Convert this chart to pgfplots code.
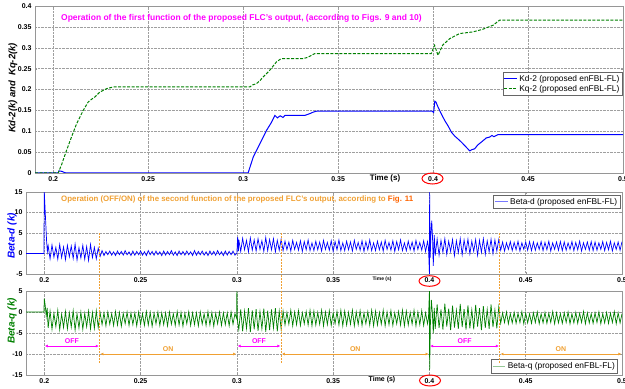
\documentclass[border=0pt]{standalone}
\usepackage{pgfplots}
\pgfplotsset{compat=1.18}
\usepackage{pgfplotstable}
\usepackage{fontspec}
\setmainfont{Liberation Sans}
\usetikzlibrary{arrows.meta}
\definecolor{kgreen}{RGB}{0,128,0}
\definecolor{mag}{RGB}{255,0,255}
\definecolor{orng}{RGB}{240,160,50}
\definecolor{orng2}{RGB}{255,100,0}
\definecolor{framec}{RGB}{150,150,150}
\definecolor{lblue}{RGB}{120,120,255}
\definecolor{lgreen}{RGB}{150,200,150}

\pgfplotstableread[row sep=\\]{
x y\\
0.1905 0\\ 0.1998 0\\ 0.2000 15\\ 0.2004 11\\ 0.2008 7\\ 0.2012 3\\ 0.2016 0.5\\
0.202 1.9\\ 0.203 -1.3\\ 0.204 2.1\\ 0.205 -0.9\\ 0.206 1.5\\ 0.207 -1.4\\ 0.208 2.2\\ 0.209 -1.0\\ 0.210 1.6\\ 0.211 -1.5\\ 0.212 2.0\\ 0.213 -0.8\\ 0.214 1.8\\ 0.215 -1.2\\
0.216 2.3\\ 0.217 -1.6\\ 0.218 1.4\\ 0.219 -1.1\\ 0.220 2.0\\ 0.221 -1.4\\ 0.222 1.7\\ 0.223 -1.7\\ 0.224 2.2\\ 0.225 -1.0\\ 0.226 1.5\\ 0.227 -1.3\\ 0.228 1.3\\ 0.229 -0.7\\
0.230 0.7\\ 0.231 -0.5\\ 0.232 0.5\\ 0.233 -0.3\\ 0.234 0.6\\ 0.235 -0.4\\ 0.236 0.4\\ 0.237 -0.5\\ 0.238 0.6\\ 0.239 -0.3\\ 0.240 0.5\\ 0.241 -0.4\\ 0.242 0.7\\ 0.243 -0.3\\
0.244 0.4\\ 0.245 -0.5\\ 0.246 0.6\\ 0.247 -0.4\\ 0.248 0.5\\ 0.249 -0.3\\ 0.250 0.6\\ 0.251 -0.4\\ 0.252 0.4\\ 0.253 -0.5\\ 0.254 0.7\\ 0.255 -0.3\\ 0.256 0.5\\ 0.257 -0.4\\
0.258 0.6\\ 0.259 -0.3\\ 0.260 0.4\\ 0.261 -0.5\\ 0.262 0.6\\ 0.263 -0.4\\ 0.264 0.5\\ 0.265 -0.3\\ 0.266 0.7\\ 0.267 -0.4\\ 0.268 0.4\\ 0.269 -0.5\\ 0.270 0.6\\ 0.271 -0.3\\
0.272 0.5\\ 0.273 -0.4\\ 0.274 0.6\\ 0.275 -0.3\\ 0.276 0.4\\ 0.277 -0.5\\ 0.278 0.7\\ 0.279 -0.4\\ 0.280 0.5\\ 0.281 -0.3\\ 0.282 0.6\\ 0.283 -0.4\\ 0.284 0.4\\ 0.285 -0.5\\
0.286 0.6\\ 0.287 -0.3\\ 0.288 0.5\\ 0.289 -0.4\\ 0.290 0.7\\ 0.291 -0.3\\ 0.292 0.4\\ 0.293 -0.5\\ 0.294 0.6\\ 0.295 -0.4\\ 0.296 0.5\\ 0.297 -0.3\\ 0.298 0.6\\ 0.299 -0.4\\
0.2999 0\\ 0.3000 0\\ 0.3004 4.0\\ 0.3008 0.6\\
0.301 3.4\\ 0.302 0.5\\ 0.303 3.7\\ 0.304 0.9\\ 0.305 3.2\\ 0.306 0.4\\ 0.307 3.8\\ 0.308 0.8\\ 0.309 3.3\\ 0.310 0.6\\ 0.311 3.6\\ 0.312 1.0\\ 0.313 3.1\\ 0.314 0.5\\
0.315 3.9\\ 0.316 0.7\\ 0.317 3.4\\ 0.318 0.9\\ 0.319 3.6\\ 0.320 0.4\\ 0.321 3.2\\ 0.322 0.8\\ 0.323 3.5\\
0.324 0.7\\ 0.325 3.0\\ 0.326 0.9\\ 0.327 2.8\\ 0.328 0.6\\ 0.329 3.2\\ 0.330 1.0\\ 0.331 2.7\\ 0.332 0.8\\ 0.333 3.1\\ 0.334 0.5\\ 0.335 2.9\\ 0.336 0.9\\ 0.337 3.3\\ 0.338 0.7\\ 0.339 2.6\\
0.340 0.7\\ 0.341 3.0\\ 0.342 0.9\\ 0.343 2.8\\ 0.344 0.6\\ 0.345 3.2\\ 0.346 1.0\\ 0.347 2.7\\ 0.348 0.8\\ 0.349 3.1\\ 0.350 0.5\\ 0.351 2.9\\ 0.352 0.9\\ 0.353 3.3\\ 0.354 0.7\\ 0.355 2.6\\
0.356 0.7\\ 0.357 3.0\\ 0.358 0.9\\ 0.359 2.8\\ 0.360 0.6\\ 0.361 3.2\\ 0.362 1.0\\ 0.363 2.7\\ 0.364 0.8\\ 0.365 3.1\\ 0.366 0.5\\ 0.367 2.9\\ 0.368 0.9\\ 0.369 3.3\\ 0.370 0.7\\ 0.371 2.6\\
0.372 0.7\\ 0.373 3.0\\ 0.374 0.9\\ 0.375 2.8\\ 0.376 0.6\\ 0.377 3.2\\ 0.378 1.0\\ 0.379 2.7\\ 0.380 0.8\\ 0.381 3.1\\ 0.382 0.5\\ 0.383 2.9\\ 0.384 0.9\\ 0.385 3.3\\ 0.386 0.7\\ 0.387 2.6\\
0.388 0.7\\ 0.389 3.0\\ 0.390 0.9\\ 0.391 2.8\\ 0.392 0.6\\ 0.393 3.2\\ 0.394 1.0\\ 0.395 2.7\\ 0.396 0.8\\ 0.397 3.1\\ 0.398 0.5\\ 0.399 2.9\\
0.3995 1.5\\ 0.4000 -5\\ 0.4001 15\\ 0.4004 -1\\ 0.4008 5\\ 0.4012 8\\ 0.4016 4\\ 0.4020 -3\\ 0.4025 4.5\\ 0.4030 -0.5\\
0.404 3.5\\ 0.405 -0.4\\ 0.406 3.2\\ 0.407 0.3\\ 0.408 3.6\\ 0.409 -0.2\\ 0.410 3.0\\ 0.411 0.5\\ 0.412 3.4\\ 0.413 -0.5\\ 0.414 3.1\\ 0.415 0.2\\ 0.416 3.6\\ 0.417 -0.3\\
0.418 3.3\\ 0.419 0.4\\ 0.420 3.5\\ 0.421 -0.1\\ 0.422 3.0\\ 0.423 0.5\\ 0.424 3.4\\ 0.425 -0.4\\ 0.426 3.2\\ 0.427 0.3\\ 0.428 3.6\\ 0.429 -0.2\\ 0.430 3.1\\ 0.431 0.4\\
0.432 3.5\\ 0.433 0.0\\ 0.434 3.3\\ 0.435 0.6\\ 0.436 3.4\\
0.437 0.8\\ 0.438 2.8\\ 0.439 0.6\\ 0.440 2.6\\ 0.441 1.0\\ 0.442 2.9\\ 0.443 0.7\\ 0.444 2.7\\ 0.445 0.9\\ 0.446 3.0\\ 0.447 0.6\\ 0.448 2.6\\ 0.449 1.0\\ 0.450 2.8\\ 0.451 0.8\\ 0.452 2.9\\
0.453 0.7\\ 0.454 2.8\\ 0.455 0.8\\ 0.456 2.6\\ 0.457 1.0\\ 0.458 2.9\\ 0.459 0.7\\ 0.460 2.7\\ 0.461 0.9\\ 0.462 3.0\\ 0.463 0.6\\ 0.464 2.6\\ 0.465 1.0\\ 0.466 2.8\\ 0.467 0.8\\ 0.468 2.9\\
0.469 0.7\\ 0.470 2.8\\ 0.471 0.8\\ 0.472 2.6\\ 0.473 1.0\\ 0.474 2.9\\ 0.475 0.7\\ 0.476 2.7\\ 0.477 0.9\\ 0.478 3.0\\ 0.479 0.6\\ 0.480 2.6\\ 0.481 1.0\\ 0.482 2.8\\ 0.483 0.8\\ 0.484 2.9\\
0.485 0.7\\ 0.486 2.8\\ 0.487 0.8\\ 0.488 2.6\\ 0.489 1.0\\ 0.490 2.9\\ 0.491 0.7\\ 0.492 2.7\\ 0.493 0.9\\ 0.494 3.0\\ 0.495 0.6\\ 0.496 2.6\\ 0.497 1.0\\ 0.498 2.8\\ 0.499 0.8\\ 0.500 2.9\\
}\betad

\pgfplotstableread[row sep=\\]{
x y\\
0.1905 0\\ 0.1998 0\\ 0.2000 3.2\\ 0.2005 1.5\\ 0.2010 -1.0\\ 0.2015 1.0\\
0.202 -3.8\\ 0.203 0.2\\ 0.204 -4.1\\ 0.205 -0.3\\ 0.206 -3.5\\ 0.207 0.4\\ 0.208 -4.2\\ 0.209 -0.5\\ 0.210 -3.7\\ 0.211 0.1\\ 0.212 -4.0\\ 0.213 -0.2\\ 0.214 -3.6\\ 0.215 0.3\\
0.216 -4.3\\ 0.217 -0.4\\ 0.218 -3.8\\ 0.219 0.0\\ 0.220 -4.1\\ 0.221 -0.3\\ 0.222 -3.5\\ 0.223 0.2\\ 0.224 -4.0\\ 0.225 -0.1\\ 0.226 -3.9\\ 0.227 0.3\\ 0.228 -3.7\\ 0.229 -0.2\\
0.230 -3.0\\ 0.231 -0.2\\ 0.232 -3.3\\ 0.233 0.0\\ 0.234 -2.9\\ 0.235 -0.4\\ 0.236 -3.2\\ 0.237 0.1\\ 0.238 -3.1\\ 0.239 -0.1\\ 0.240 -3.4\\ 0.241 -0.3\\ 0.242 -2.8\\ 0.243 0.0\\ 0.244 -3.2\\ 0.245 -0.2\\
0.246 -3.0\\ 0.247 -0.2\\ 0.248 -3.3\\ 0.249 0.0\\ 0.250 -2.9\\ 0.251 -0.4\\ 0.252 -3.2\\ 0.253 0.1\\ 0.254 -3.1\\ 0.255 -0.1\\ 0.256 -3.4\\ 0.257 -0.3\\ 0.258 -2.8\\ 0.259 0.0\\ 0.260 -3.2\\ 0.261 -0.2\\
0.262 -3.0\\ 0.263 -0.2\\ 0.264 -3.3\\ 0.265 0.0\\ 0.266 -2.9\\ 0.267 -0.4\\ 0.268 -3.2\\ 0.269 0.1\\ 0.270 -3.1\\ 0.271 -0.1\\ 0.272 -3.4\\ 0.273 -0.3\\ 0.274 -2.8\\ 0.275 0.0\\ 0.276 -3.2\\ 0.277 -0.2\\
0.278 -3.0\\ 0.279 -0.2\\ 0.280 -3.3\\ 0.281 0.0\\ 0.282 -2.9\\ 0.283 -0.4\\ 0.284 -3.2\\ 0.285 0.1\\ 0.286 -3.1\\ 0.287 -0.1\\ 0.288 -3.4\\ 0.289 -0.3\\ 0.290 -2.8\\ 0.291 0.0\\ 0.292 -3.2\\ 0.293 -0.2\\
0.294 -3.0\\ 0.295 -0.2\\ 0.296 -3.3\\ 0.297 0.0\\ 0.298 -2.9\\ 0.299 -0.4\\
0.2999 -1.5\\ 0.3000 5.0\\ 0.3003 -2.0\\
0.301 -4.2\\ 0.302 0.6\\ 0.303 -4.6\\ 0.304 0.2\\ 0.305 -3.9\\ 0.306 0.9\\ 0.307 -4.8\\ 0.308 0.4\\ 0.309 -4.1\\ 0.310 0.7\\ 0.311 -4.5\\ 0.312 0.1\\ 0.313 -4.0\\ 0.314 0.8\\
0.315 -4.7\\ 0.316 0.3\\ 0.317 -4.3\\ 0.318 0.6\\ 0.319 -3.8\\ 0.320 0.9\\ 0.321 -4.6\\ 0.322 0.2\\ 0.323 -4.1\\
0.324 0.2\\ 0.325 -3.1\\ 0.326 -0.1\\ 0.327 -2.9\\ 0.328 0.4\\ 0.329 -3.3\\ 0.330 0.0\\ 0.331 -3.0\\ 0.332 0.3\\ 0.333 -3.2\\ 0.334 -0.2\\ 0.335 -2.8\\ 0.336 0.1\\ 0.337 -3.1\\ 0.338 0.4\\ 0.339 -3.3\\
0.340 0.2\\ 0.341 -3.1\\ 0.342 -0.1\\ 0.343 -2.9\\ 0.344 0.4\\ 0.345 -3.3\\ 0.346 0.0\\ 0.347 -3.0\\ 0.348 0.3\\ 0.349 -3.2\\ 0.350 -0.2\\ 0.351 -2.8\\ 0.352 0.1\\ 0.353 -3.1\\ 0.354 0.4\\ 0.355 -3.3\\
0.356 0.2\\ 0.357 -3.1\\ 0.358 -0.1\\ 0.359 -2.9\\ 0.360 0.4\\ 0.361 -3.3\\ 0.362 0.0\\ 0.363 -3.0\\ 0.364 0.3\\ 0.365 -3.2\\ 0.366 -0.2\\ 0.367 -2.8\\ 0.368 0.1\\ 0.369 -3.1\\ 0.370 0.4\\ 0.371 -3.3\\
0.372 0.2\\ 0.373 -3.1\\ 0.374 -0.1\\ 0.375 -2.9\\ 0.376 0.4\\ 0.377 -3.3\\ 0.378 0.0\\ 0.379 -3.0\\ 0.380 0.3\\ 0.381 -3.2\\ 0.382 -0.2\\ 0.383 -2.8\\ 0.384 0.1\\ 0.385 -3.1\\ 0.386 0.4\\ 0.387 -3.3\\
0.388 0.2\\ 0.389 -3.1\\ 0.390 -0.1\\ 0.391 -2.9\\ 0.392 0.4\\ 0.393 -3.3\\ 0.394 0.0\\ 0.395 -3.0\\ 0.396 0.3\\ 0.397 -3.2\\ 0.398 -0.2\\ 0.399 -2.8\\
0.3995 -1.5\\ 0.4000 5.0\\ 0.4001 -13.8\\ 0.4005 -3.0\\ 0.4010 2.9\\ 0.4015 0.0\\ 0.4020 -5.1\\ 0.4025 1.0\\ 0.4030 -4.0\\
0.404 1.8\\ 0.405 -3.8\\ 0.406 0.6\\ 0.407 -4.2\\ 0.408 2.0\\ 0.409 -3.5\\ 0.410 0.8\\ 0.411 -4.3\\ 0.412 1.5\\ 0.413 -3.7\\ 0.414 0.4\\ 0.415 -4.0\\ 0.416 1.9\\ 0.417 -3.6\\
0.418 0.7\\ 0.419 -4.2\\ 0.420 1.6\\ 0.421 -3.9\\ 0.422 0.5\\ 0.423 -4.1\\ 0.424 1.7\\ 0.425 -3.5\\ 0.426 0.9\\ 0.427 -4.3\\ 0.428 1.4\\ 0.429 -3.8\\ 0.430 0.6\\ 0.431 -4.0\\
0.432 1.8\\ 0.433 -3.6\\ 0.434 0.5\\ 0.435 -3.9\\ 0.436 1.2\\
0.437 -2.7\\ 0.438 -0.2\\ 0.439 -2.5\\ 0.440 0.0\\ 0.441 -2.8\\ 0.442 -0.4\\ 0.443 -2.6\\ 0.444 -0.1\\ 0.445 -2.7\\ 0.446 -0.3\\ 0.447 -2.5\\ 0.448 0.1\\ 0.449 -2.8\\ 0.450 -0.2\\ 0.451 -2.6\\ 0.452 -0.4\\
0.453 -2.7\\ 0.454 -0.2\\ 0.455 -2.5\\ 0.456 0.0\\ 0.457 -2.8\\ 0.458 -0.4\\ 0.459 -2.6\\ 0.460 -0.1\\ 0.461 -2.7\\ 0.462 -0.3\\ 0.463 -2.5\\ 0.464 0.1\\ 0.465 -2.8\\ 0.466 -0.2\\ 0.467 -2.6\\ 0.468 -0.4\\
0.469 -2.7\\ 0.470 -0.2\\ 0.471 -2.5\\ 0.472 0.0\\ 0.473 -2.8\\ 0.474 -0.4\\ 0.475 -2.6\\ 0.476 -0.1\\ 0.477 -2.7\\ 0.478 -0.3\\ 0.479 -2.5\\ 0.480 0.1\\ 0.481 -2.8\\ 0.482 -0.2\\ 0.483 -2.6\\ 0.484 -0.4\\
0.485 -2.7\\ 0.486 -0.2\\ 0.487 -2.5\\ 0.488 0.0\\ 0.489 -2.8\\ 0.490 -0.4\\ 0.491 -2.6\\ 0.492 -0.1\\ 0.493 -2.7\\ 0.494 -0.3\\ 0.495 -2.5\\ 0.496 0.1\\ 0.497 -2.8\\ 0.498 -0.2\\ 0.499 -2.6\\ 0.500 -0.4\\
}\betaq

\newcommand\tfont{\fontsize{7}{8}\selectfont\bfseries}
\pgfplotsset{
  panel/.style={
    scale only axis, anchor=north west,
    xmax=0.5,
    xtick={0.2,0.25,0.3,0.35,0.4,0.45,0.5},
    xticklabels={0.2,0.25,0.3,0.35,0.4,0.45,0.5},
    scaled ticks=false,
    grid=major,
    grid style={densely dotted, gray!75, line width=0.5pt},
    axis line style={framec, line width=0.6pt},
    tick style={framec},
    major tick length=2bp,
    tick align=inside,
    tick label style={font=\tfont},
    /pgf/number format/assume math mode=true,
    legend style={font=\fontsize{8.4}{9.5}\selectfont, draw=black!60, inner sep=0.8pt, row sep=-1.5pt, fill=white},
    legend cell align=left,
    legend image code/.code={\draw[#1] (0cm,0cm) -- (0.45cm,0cm);},
  }
}

\begin{document}
\begin{tikzpicture}
\useasboundingbox (0,-389bp) rectangle (625bp,0);

% ---------------- top panel
\begin{axis}[panel, at={(35bp,-6bp)}, width=588bp, height=167bp,
  xmin=0.1904, ymin=0, ymax=0.4,
  ytick={0,0.05,0.1,0.15,0.2,0.25,0.3,0.35,0.4},
  yticklabels={0,0.05,0.1,0.15,0.2,0.25,0.3,0.35,0.4},
  legend style={at={(0.999,0.605)}, anchor=north east}]
\addplot[blue, line width=1pt] coordinates {
(0.1904,0) (0.2026,0) (0.2030,0.005) (0.2045,0.004) (0.2060,0.001) (0.2070,0) (0.3026,0)
(0.3053,0.038) (0.3088,0.070) (0.3123,0.102) (0.3150,0.122) (0.3167,0.138) (0.3180,0.132)
(0.3195,0.137) (0.3210,0.133) (0.3220,0.138) (0.3325,0.138) (0.3350,0.142) (0.3370,0.146)
(0.3386,0.148) (0.3995,0.148) (0.4003,0.145) (0.4009,0.172) (0.4015,0.170) (0.4026,0.158)
(0.4045,0.140) (0.4061,0.126) (0.4080,0.112) (0.4096,0.098) (0.4115,0.088) (0.4130,0.082)
(0.4149,0.074) (0.4170,0.064) (0.4193,0.053) (0.4205,0.056) (0.4219,0.058) (0.4235,0.067)
(0.4254,0.074) (0.4270,0.080) (0.4280,0.084) (0.4298,0.086) (0.4310,0.090) (0.4320,0.087)
(0.4342,0.092) (0.5,0.092)};
\addlegendentry{Kd-2 (proposed enFBL-FL)}
\addplot[kgreen, line width=1pt, dash pattern=on 3bp off 1.5bp] coordinates {
(0.1904,0) (0.2026,0) (0.2044,0.020) (0.2070,0.054) (0.2096,0.086) (0.2123,0.118)
(0.2158,0.150) (0.2184,0.170) (0.2200,0.176) (0.2219,0.182) (0.2246,0.194) (0.2281,0.202)
(0.2316,0.206) (0.3026,0.206) (0.3035,0.206) (0.3050,0.211) (0.3070,0.214) (0.3090,0.222)
(0.3105,0.230) (0.3140,0.246) (0.3175,0.266) (0.3200,0.274) (0.3316,0.274) (0.3340,0.277)
(0.3377,0.286) (0.3990,0.286) (0.4008,0.306) (0.4026,0.282) (0.4050,0.306) (0.4088,0.322)
(0.4140,0.334) (0.4210,0.338) (0.4260,0.344) (0.4316,0.354) (0.4350,0.366) (0.5,0.366)};
\addlegendentry{Kq-2 (proposed enFBL-FL)}
\end{axis}

% ---------------- middle panel
\begin{axis}[panel, at={(26bp,-192bp)}, width=596bp, height=82bp,
  xmin=0.1905, ymin=-5, ymax=15, ytick={-5,0,5,10,15},
  yticklabels={-5,0,5,10,15},
  legend style={at={(0.997,0.963)}, anchor=north east}]
\addplot[blue, line width=0.7pt,
  legend image code/.code={\draw[draw=lblue, line width=1pt] (0cm,0cm) -- (0.45cm,0cm);}] table {\betad};
\addlegendentry{Beta-d (proposed enFBL-FL)}
\coordinate (m1) at (axis cs:0.2287,5);
\coordinate (m2) at (axis cs:0.3230,5);
\coordinate (m3) at (axis cs:0.4365,5);
\end{axis}

% ---------------- bottom panel
\begin{axis}[panel, at={(26bp,-291bp)}, width=596bp, height=84bp,
  xmin=0.1905, ymin=-15, ymax=5, ytick={-15,-10,-5,0,5},
  yticklabels={-15,-10,-5,0,5},
  legend style={at={(0.993,0.024)}, anchor=south east}]
\addplot[kgreen, line width=0.7pt,
  legend image code/.code={\draw[draw=lgreen, line width=1pt] (0cm,0cm) -- (0.45cm,0cm);}] table {\betaq};
\addlegendentry{Beta-q (proposed enFBL-FL)}
\coordinate (b1) at (axis cs:0.2287,-12.2);
\coordinate (b2) at (axis cs:0.3230,-12.2);
\coordinate (b3) at (axis cs:0.4365,-12.2);
\begin{scope}[line width=0.8bp, {Latex[length=3bp,width=3bp]}-{Latex[length=3bp,width=3bp]}]
\draw[mag] (axis cs:0.2003,-8.1) -- (axis cs:0.2283,-8.1);
\draw[orng] (axis cs:0.2291,-10) -- (axis cs:0.2996,-10);
\draw[mag] (axis cs:0.3004,-8.1) -- (axis cs:0.3226,-8.1);
\draw[orng] (axis cs:0.3234,-10) -- (axis cs:0.3996,-10);
\draw[mag] (axis cs:0.4004,-8.1) -- (axis cs:0.4361,-8.1);
\draw[orng] (axis cs:0.4369,-10) -- (axis cs:0.4997,-10);
\end{scope}
\node[mag, font=\tfont] at (axis cs:0.2143,-6.9) {OFF};
\node[orng, font=\tfont] at (axis cs:0.2643,-8.9) {ON};
\node[mag, font=\tfont] at (axis cs:0.3115,-6.9) {OFF};
\node[orng, font=\tfont] at (axis cs:0.3615,-8.9) {ON};
\node[mag, font=\tfont] at (axis cs:0.4183,-6.9) {OFF};
\node[orng, font=\tfont] at (axis cs:0.4683,-8.9) {ON};
\end{axis}

% orange dashed separators
\foreach \i in {1,2,3}{
  \draw[orng, line width=0.6bp, dash pattern=on 2bp off 1.2bp] (m\i) -- (b\i);
}

% annotations
\node[anchor=west, mag, font=\fontsize{8.5}{9}\selectfont\bfseries, inner sep=0] at (61bp,-18bp)
  {Operation of the first function of the proposed FLC's output, (according to Figs. 9 and 10)};
\node[anchor=west, orng, font=\fontsize{7.9}{9}\selectfont\bfseries, inner sep=0] at (61bp,-199bp)
  {Operation (OFF/ON) of the second function of the proposed FLC's output, according to \textcolor{orng2}{Fig. 11}};

% y labels
\node[rotate=90, font=\fontsize{9.5}{10}\selectfont\bfseries\itshape] at (13bp,-88bp) {Kd-2(k) and\ \ Kq-2(k)};
\node[rotate=90, blue, font=\fontsize{10}{11}\selectfont\bfseries\itshape] at (12bp,-236bp) {Beta-d (k)};
\node[rotate=90, kgreen, font=\fontsize{10}{11}\selectfont\bfseries\itshape] at (12bp,-321bp) {Beta-q (k)};

% Time labels
\node[font=\fontsize{8}{9}\selectfont\bfseries] at (385bp,-178bp) {Time (s)};
\node[font=\fontsize{5}{6}\selectfont\bfseries] at (382bp,-279bp) {Time (s)};
\node[font=\fontsize{7}{8}\selectfont\bfseries] at (382bp,-380bp) {Time (s)};

% red ellipses
\draw[red, line width=1bp] (432.5bp,-178.5bp) ellipse [x radius=10.5bp, y radius=5.5bp];
\draw[red, line width=1bp] (429.5bp,-281bp) ellipse [x radius=10.5bp, y radius=5.3bp];
\draw[red, line width=1bp] (430bp,-380.5bp) ellipse [x radius=10.5bp, y radius=5.5bp];
\end{tikzpicture}
\end{document}
